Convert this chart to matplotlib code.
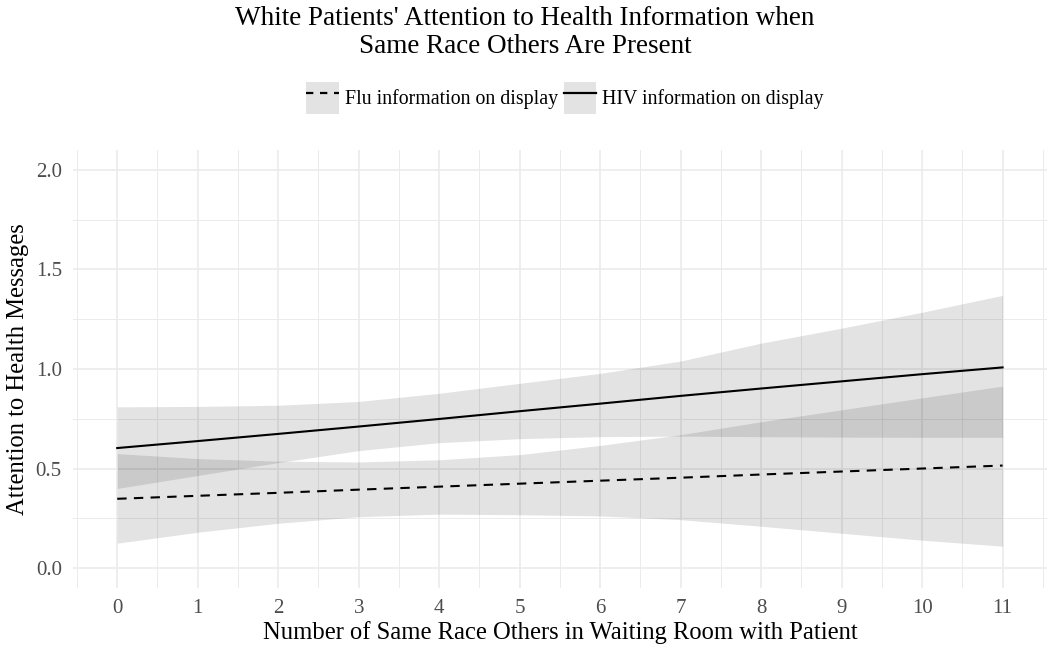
import numpy as np
import matplotlib.pyplot as plt
from matplotlib.patches import Patch
from matplotlib.lines import Line2D
from matplotlib.ticker import MultipleLocator
from matplotlib.legend_handler import HandlerTuple, HandlerLine2D

plt.rcParams['font.family'] = ['Liberation Serif', 'DejaVu Serif']

# number of same race others (0..11)
others = np.arange(0, 12)

# flu information on display: predicted attention and 95% band
flu_fit = [0.348, 0.363, 0.378, 0.394, 0.409, 0.424, 0.439, 0.454, 0.470, 0.485, 0.500, 0.515]
flu_lo = [0.125, 0.180, 0.225, 0.258, 0.271, 0.268, 0.262, 0.243, 0.210, 0.175, 0.140, 0.110]
flu_hi = [0.575, 0.550, 0.537, 0.533, 0.544, 0.570, 0.616, 0.670, 0.735, 0.795, 0.855, 0.914]

# HIV information on display
hiv_fit = [0.603, 0.638, 0.674, 0.711, 0.749, 0.788, 0.826, 0.865, 0.902, 0.938, 0.974, 1.008]
hiv_lo = [0.400, 0.465, 0.530, 0.590, 0.630, 0.650, 0.660, 0.663, 0.660, 0.658, 0.657, 0.657]
hiv_hi = [0.810, 0.812, 0.818, 0.837, 0.878, 0.928, 0.978, 1.040, 1.130, 1.205, 1.285, 1.370]

labels = ['Flu information on display', 'HIV information on display']


class CenteredLine(HandlerLine2D):
    # put the key line in the middle of the grey key box
    def get_ydata(self, legend, xdescent, ydescent, width, height, fontsize):
        return np.full(2, height / 2.0 - ydescent)


fig = plt.figure(figsize=(10.5, 6.45), dpi=100)
ax = fig.add_axes([0.0695, 0.0884, 0.9275, 0.679])

band = dict(color='black', alpha=0.11, linewidth=0)
ax.fill_between(others, flu_lo, flu_hi, **band)
ax.fill_between(others, hiv_lo, hiv_hi, **band)
ax.plot(others, flu_fit, color='black', lw=1.5, linestyle=(0, (4.5, 3.5)))
ax.plot(others, hiv_fit, color='black', lw=1.5)

ax.set_xlim(-0.55, 11.55)
ax.set_ylim(-0.1, 2.1)
ax.set_xticks(others)
ax.xaxis.set_minor_locator(MultipleLocator(0.5))
ax.set_yticks([0.0, 0.5, 1.0, 1.5, 2.0])
ax.set_yticklabels(['0.0', '0.5', '1.0', '1.5', '2.0'])
ax.set_yticks([0.25, 0.75, 1.25, 1.75], minor=True)
ax.grid(which='major', color='#ebebeb', lw=1.2)
ax.grid(which='minor', color='#ebebeb', lw=0.7)
ax.set_axisbelow(True)
for s in ax.spines.values():
    s.set_visible(False)
ax.tick_params(which='both', length=0, labelsize=15, labelcolor='#4d4d4d', pad=8)

ax.set_xlabel('Number of Same Race Others in Waiting Room with Patient', fontsize=17.7, labelpad=2)
ax.set_ylabel('Attention to Health Messages', fontsize=17.7, labelpad=5)

fig.suptitle("White Patients' Attention to Health Information when\nSame Race Others Are Present",
             fontsize=19.5, y=0.99, linespacing=1.15)

key_bg = dict(facecolor='#e3e3e3', edgecolor='none')
handles = [(Patch(**key_bg), Line2D([], [], color='black', lw=1.6, linestyle=(0, (3.3, 3.0)))),
           (Patch(**key_bg), Line2D([], [], color='black', lw=1.6))]
fig.legend(handles, labels, loc='center', bbox_to_anchor=(0.538, 0.848), ncol=2,
           frameon=False, fontsize=14.3, handlelength=1.65, handleheight=2.1,
           handletextpad=0.3, columnspacing=0.3,
           handler_map={tuple: HandlerTuple(ndivide=1, pad=0), Line2D: CenteredLine()})

fig.savefig('out.png', dpi=100)
